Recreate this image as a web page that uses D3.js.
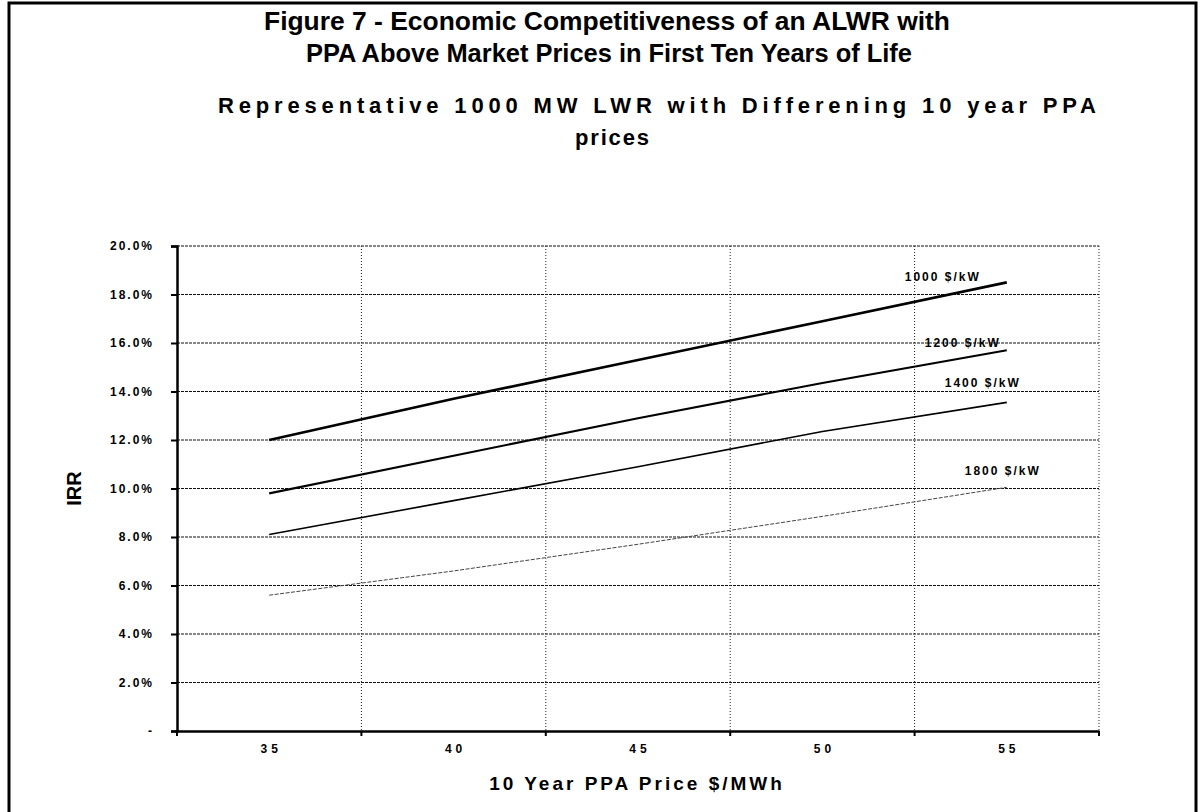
<!DOCTYPE html>
<html>
<head>
<meta charset="utf-8">
<script src="https://cdn.jsdelivr.net/npm/d3@7"></script>
<style>
  body { margin: 0; background: #fff; }
  svg { display: block; }
  text { fill: #000; }
</style>
</head>
<body>
<div id="chart"></div>
<script>
// Chart data
const prices = ["35", "40", "45", "50", "55"];   // 10 year PPA price, $/MWh
const irr1000 = [0.120, 0.137, 0.153, 0.169, 0.185];
const irr1200 = [0.098, 0.1135, 0.129, 0.1435, 0.157];
const irr1400 = [0.081, 0.095, 0.109, 0.1235, 0.1355];
const irr1800 = [0.056, 0.066, 0.077, 0.0885, 0.1005];
const seriesNames = ["1000 $/kW", "1200 $/kW", "1400 $/kW", "1800 $/kW"];
const yTicks = [0, 0.02, 0.04, 0.06, 0.08, 0.10, 0.12, 0.14, 0.16, 0.18, 0.20];

const series = [irr1000, irr1200, irr1400, irr1800].map(function (vals, i) {
    return { name: seriesNames[i], values: vals.map(function (v, j) { return { price: prices[j], irr: v }; }) };
});

const W = 1204, H = 812;
const margin = { top: 246, right: 105, bottom: 81, left: 177 };
const width = W - margin.left - margin.right;
const height = H - margin.top - margin.bottom;

const svg = d3.select("#chart")
    .append("svg")
    .attr("width", W)
    .attr("height", H);

// Outer frame of the figure (left, top, right)
svg.append("path")
    .attr("d", "M9,812 V3 H1196 V812")
    .attr("fill", "none")
    .attr("stroke", "#000")
    .attr("stroke-width", 3);

// Figure title (condensed look, squeezed to the scanned width)
const title = svg.append("g")
    .attr("font-family", "'Liberation Sans Narrow', 'Arial Narrow', 'Liberation Sans', Arial, sans-serif")
    .attr("font-weight", "bold")
    .attr("font-size", "26px")
    .attr("text-anchor", "middle");
title.append("text").attr("x", 607).attr("y", 30)
    .attr("textLength", 686).attr("lengthAdjust", "spacingAndGlyphs")
    .text("Figure 7 - Economic Competitiveness of an ALWR with");
title.append("text").attr("x", 609).attr("y", 62)
    .attr("textLength", 606).attr("lengthAdjust", "spacingAndGlyphs")
    .text("PPA Above Market Prices in First Ten Years of Life");

// Chart subtitle
const sub = svg.append("g")
    .attr("font-family", "'Liberation Sans', Arial, sans-serif")
    .attr("font-weight", "bold")
    .attr("font-size", "22px")
    .attr("text-anchor", "middle");
sub.append("text").attr("x", 657).attr("y", 113)
    .attr("textLength", 878).attr("lengthAdjust", "spacing")
    .text("Representative 1000 MW LWR with Differening 10 year PPA");
sub.append("text").attr("x", 612).attr("y", 145)
    .attr("textLength", 74).attr("lengthAdjust", "spacing")
    .text("prices");

const g = svg.append("g")
    .attr("transform", `translate(${margin.left},${margin.top})`);

// Scales
const x = d3.scaleBand()
    .domain(prices)
    .range([0, width])
    .paddingInner(0)
    .paddingOuter(0);

const y = d3.scaleLinear()
    .domain([0, 0.20])
    .range([height, 0]);

const cx = function (p) { return x(p) + x.bandwidth() / 2; };

// Horizontal gridlines
g.selectAll(".hgrid")
    .data(yTicks.filter(function (d) { return d > 0; }))
    .enter()
    .append("line")
    .attr("class", "hgrid")
    .attr("x1", 0)
    .attr("x2", width)
    .attr("y1", function (d) { return y(d); })
    .attr("y2", function (d) { return y(d); })
    .attr("stroke", "#111")
    .attr("stroke-width", 1.2)
    .attr("stroke-dasharray", "3,1");

// Vertical gridlines at category boundaries
const bounds = prices.map(function (p) { return x(p) + x.bandwidth(); });
g.selectAll(".vgrid")
    .data(bounds)
    .enter()
    .append("line")
    .attr("class", "vgrid")
    .attr("x1", function (d) { return d; })
    .attr("x2", function (d) { return d; })
    .attr("y1", 0)
    .attr("y2", height)
    .attr("stroke", "#222")
    .attr("stroke-width", 1)
    .attr("stroke-dasharray", "1,2");

// Lines
const line = d3.line()
    .x(function (d) { return cx(d.price); })
    .y(function (d) { return y(d.irr); });

const widths = [2.6, 2.1, 1.6, 1];
const colors = ["#000", "#000", "#000", "#444"];
const dashes = [null, null, null, "4,1.5"];

g.selectAll(".series")
    .data(series)
    .enter()
    .append("path")
    .attr("class", "series")
    .attr("fill", "none")
    .attr("stroke", function (d, i) { return colors[i]; })
    .attr("stroke-width", function (d, i) { return widths[i]; })
    .attr("stroke-dasharray", function (d, i) { return dashes[i]; })
    .attr("d", function (d) { return line(d.values); });

// Series labels near the right end of each line
const labelDx = [-64, -44, -24, -4];
const labelDy = [-1, -3, -15, -12];
g.selectAll(".slabel")
    .data(series)
    .enter()
    .append("text")
    .attr("class", "slabel")
    .attr("x", function (d, i) { return cx(prices[prices.length - 1]) + labelDx[i]; })
    .attr("y", function (d, i) { return y(d.values[d.values.length - 1].irr) + labelDy[i]; })
    .attr("text-anchor", "middle")
    .attr("font-family", "'Liberation Sans', Arial, sans-serif")
    .attr("font-weight", "bold")
    .attr("font-size", "12px")
    .attr("letter-spacing", "2px")
    .text(function (d) { return d.name; });

// Y axis
const yAxis = g.append("g")
    .call(d3.axisLeft(y)
        .tickValues(yTicks)
        .tickSize(6)
        .tickPadding(17)
        .tickFormat(function (d) { return d === 0 ? "-" : d3.format(".1%")(d); }));
yAxis.select(".domain").attr("stroke-width", 2.5);
yAxis.selectAll(".tick line").attr("stroke-width", 2);
yAxis.selectAll("text")
    .attr("font-family", "'Liberation Sans', Arial, sans-serif")
    .attr("font-weight", "bold")
    .attr("font-size", "12px")
    .attr("letter-spacing", "2px")
    .attr("fill", "#000");

// X axis: labels centred in each band, ticks at band boundaries
const xAxis = g.append("g")
    .attr("transform", "translate(0," + height + ")")
    .call(d3.axisBottom(x).tickSize(0).tickPadding(13));
xAxis.select(".domain").attr("stroke-width", 2.5);
xAxis.selectAll("text")
    .attr("font-family", "'Liberation Sans', Arial, sans-serif")
    .attr("font-weight", "bold")
    .attr("font-size", "12px")
    .attr("letter-spacing", "4px")
    .attr("dx", "2px")
    .attr("fill", "#000");

xAxis.selectAll(".btick")
    .data([0].concat(bounds))
    .enter()
    .append("line")
    .attr("class", "btick")
    .attr("x1", function (d) { return d; })
    .attr("x2", function (d) { return d; })
    .attr("y1", 0)
    .attr("y2", 5)
    .attr("stroke", "#000")
    .attr("stroke-width", 2);

// X axis title
g.append("text")
    .attr("x", width / 2 - 1)
    .attr("y", height + 59)
    .attr("text-anchor", "middle")
    .attr("font-family", "'Liberation Sans', Arial, sans-serif")
    .attr("font-weight", "bold")
    .attr("font-size", "19px")
    .attr("letter-spacing", "3px")
    .text("10 Year PPA Price $/MWh");

// Y axis title
g.append("text")
    .attr("transform", "rotate(-90)")
    .attr("x", -(y(0.10)))
    .attr("y", -96)
    .attr("text-anchor", "middle")
    .attr("font-family", "'Liberation Sans', Arial, sans-serif")
    .attr("font-weight", "bold")
    .attr("font-size", "20px")
    .text("IRR");
</script>
</body>
</html>
